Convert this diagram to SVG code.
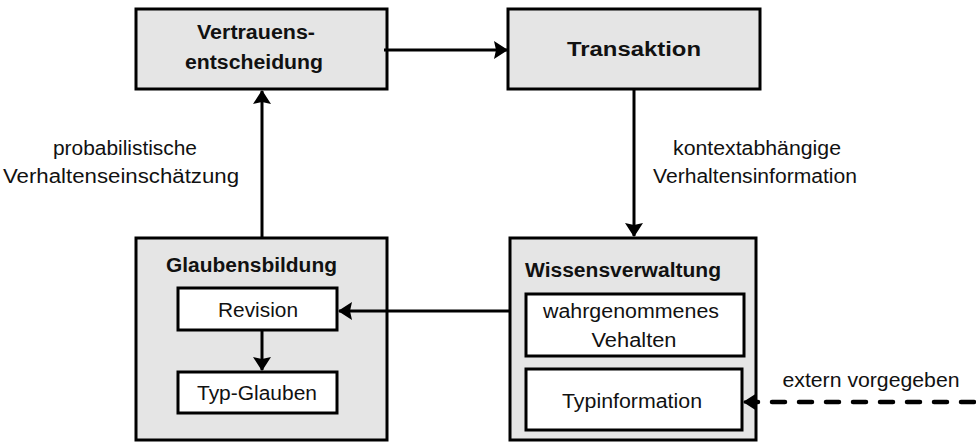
<svg xmlns="http://www.w3.org/2000/svg" width="976" height="442" viewBox="0 0 976 442">
  <style>
    .outer { fill: #e5e5e5; stroke: #000; stroke-width: 3; }
    .inner { fill: #fff; stroke: #000; stroke-width: 3; }
    .title { font-family: "Liberation Sans", Arial, sans-serif; font-size: 20px; font-weight: bold; fill: #111; }
    .txt { font-family: "Liberation Sans", Arial, sans-serif; font-size: 20px; fill: #111; }
    .edge { fill: none; stroke: #000; stroke-width: 3; }
    .dashed { stroke-width: 4.5; stroke-dasharray: 13 14; stroke-linecap: round; }
  </style>
  <defs>
    <marker id="arrow" viewBox="0 0 14 18" refX="13" refY="9" markerWidth="14" markerHeight="18" markerUnits="userSpaceOnUse" orient="auto">
      <path d="M0,0 L14,9 L0,18 L2,9 z" fill="#000"/>
    </marker>
  </defs>

  <g id="vertrauensentscheidung">
    <rect class="outer" x="136" y="9" width="251" height="80"/>
    <text class="title" x="256" y="39" text-anchor="middle" textLength="118" lengthAdjust="spacingAndGlyphs">Vertrauens-</text>
    <text class="title" x="254" y="69" text-anchor="middle" textLength="138" lengthAdjust="spacingAndGlyphs">entscheidung</text>
  </g>

  <g id="transaktion">
    <rect class="outer" x="508" y="9" width="252" height="80"/>
    <text class="title" x="634" y="56" text-anchor="middle" textLength="134" lengthAdjust="spacingAndGlyphs">Transaktion</text>
  </g>

  <g id="glaubensbildung">
    <rect class="outer" x="136" y="238" width="251" height="202"/>
    <text class="title" x="166" y="272" textLength="171" lengthAdjust="spacingAndGlyphs">Glaubensbildung</text>
    <g id="revision">
      <rect class="inner" x="178" y="288" width="159" height="42"/>
      <text class="txt" x="258" y="317" text-anchor="middle" textLength="80" lengthAdjust="spacingAndGlyphs">Revision</text>
    </g>
    <g id="typ-glauben">
      <rect class="inner" x="178" y="372" width="159" height="41"/>
      <text class="txt" x="257" y="400" text-anchor="middle" textLength="120" lengthAdjust="spacingAndGlyphs">Typ-Glauben</text>
    </g>
  </g>

  <g id="wissensverwaltung">
    <rect class="outer" x="510" y="238" width="246" height="202"/>
    <text class="title" x="525" y="277" textLength="196" lengthAdjust="spacingAndGlyphs">Wissensverwaltung</text>
    <g id="wahrgenommenes-verhalten">
      <rect class="inner" x="526" y="294" width="218" height="62"/>
      <text class="txt" x="631" y="318" text-anchor="middle" textLength="176" lengthAdjust="spacingAndGlyphs">wahrgenommenes</text>
      <text class="txt" x="634" y="347" text-anchor="middle" textLength="85" lengthAdjust="spacingAndGlyphs">Vehalten</text>
    </g>
    <g id="typinformation">
      <rect class="inner" x="526" y="369" width="216" height="61"/>
      <text class="txt" x="632" y="408" text-anchor="middle" textLength="140" lengthAdjust="spacingAndGlyphs">Typinformation</text>
    </g>
  </g>

  <g id="connectors">
    <line class="edge" x1="384" y1="50" x2="507" y2="50" marker-end="url(#arrow)"/>
    <line class="edge" x1="634" y1="89" x2="634" y2="236" marker-end="url(#arrow)"/>
    <line class="edge" x1="262" y1="238" x2="262" y2="91" marker-end="url(#arrow)"/>
    <line class="edge" x1="510" y1="311" x2="339" y2="311" marker-end="url(#arrow)"/>
    <line class="edge" x1="262" y1="330" x2="262" y2="370" marker-end="url(#arrow)"/>
    <line class="edge dashed" x1="974" y1="402" x2="752" y2="402"/>
    <line class="edge" x1="755" y1="402" x2="744" y2="402" marker-end="url(#arrow)"/>
  </g>

  <g id="labels">
    <text class="txt" x="125" y="155" text-anchor="middle" textLength="144" lengthAdjust="spacingAndGlyphs">probabilistische</text>
    <text class="txt" x="121" y="183" text-anchor="middle" textLength="236" lengthAdjust="spacingAndGlyphs">Verhaltenseinschätzung</text>
    <text class="txt" x="757" y="155" text-anchor="middle" textLength="168" lengthAdjust="spacingAndGlyphs">kontextabhängige</text>
    <text class="txt" x="755" y="183" text-anchor="middle" textLength="204" lengthAdjust="spacingAndGlyphs">Verhaltensinformation</text>
    <text class="txt" x="871" y="387" text-anchor="middle" textLength="177" lengthAdjust="spacingAndGlyphs">extern vorgegeben</text>
  </g>
</svg>
